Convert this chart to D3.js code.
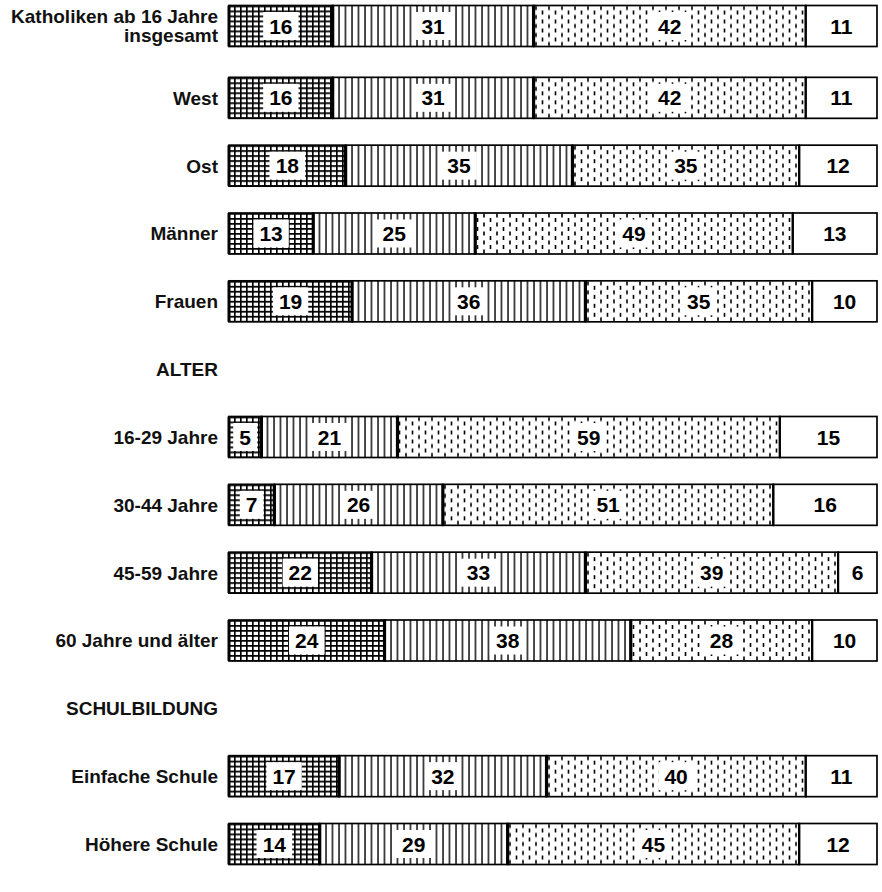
<!DOCTYPE html>
<html>
<head>
<meta charset="utf-8">
<script src="https://cdn.jsdelivr.net/npm/d3@7"></script>
<style>
  body { margin: 0; background: #fff; }
  text { font-family: "Liberation Sans", Arial, sans-serif; }
</style>
</head>
<body>
<svg id="chart"></svg>
<script>
// categories (label lines separated by |)
const categories = [
    "Katholiken ab 16 Jahre|insgesamt", "West", "Ost", "Männer", "Frauen",
    "16-29 Jahre", "30-44 Jahre", "45-59 Jahre", "60 Jahre und älter",
    "Einfache Schule", "Höhere Schule"
];
// group headers and the category they are placed before
const headers = ["ALTER", "SCHULBILDUNG"];
const headerBefore = ["16-29 Jahre", "Einfache Schule"];

// series values (percent)
const s1 = [16, 16, 18, 13, 19, 5, 7, 22, 24, 17, 14];
const s2 = [31, 31, 35, 25, 36, 21, 26, 33, 38, 32, 29];
const s3 = [42, 42, 35, 49, 35, 59, 51, 39, 28, 40, 45];
const s4 = [11, 11, 12, 13, 10, 15, 16, 6, 10, 11, 12];

const width = 882, height = 892;
const barH = 41;

const svg = d3.select("#chart")
    .attr("width", width)
    .attr("height", height);

// patterns
const defs = svg.append("defs");
const grid = defs.append("pattern")
    .attr("id", "p-grid")
    .attr("patternUnits", "userSpaceOnUse")
    .attr("width", 6).attr("height", 5);
grid.append("rect").attr("width", 6).attr("height", 5).attr("fill", "#fff");
grid.append("path").attr("d", "M0.8,0V5M0,0.8H6").attr("stroke", "#000").attr("stroke-width", 1.7);

const vlines = defs.append("pattern")
    .attr("id", "p-vlines")
    .attr("patternUnits", "userSpaceOnUse")
    .attr("width", 6.5).attr("height", 10);
vlines.append("rect").attr("width", 6.5).attr("height", 10).attr("fill", "#fff");
vlines.append("path").attr("d", "M1,0V10").attr("stroke", "#000").attr("stroke-width", 1.4);

const dots = defs.append("pattern")
    .attr("id", "p-dots")
    .attr("patternUnits", "userSpaceOnUse")
    .attr("width", 13).attr("height", 9);
dots.append("rect").attr("width", 13).attr("height", 9).attr("fill", "#fff");
dots.append("path").attr("d", "M3,0.5V4.5M9.5,5V9").attr("stroke", "#000").attr("stroke-width", 1.6);

const fills = ["url(#p-grid)", "url(#p-vlines)", "url(#p-dots)", "#fff"];

// row slots: categories with headers interleaved
const slots = [];
categories.forEach(c => {
    const h = headerBefore.indexOf(c);
    if (h >= 0) slots.push(headers[h]);
    slots.push(c);
});

const y = d3.scalePoint()
    .domain(slots)
    .range([30, 844]);
// first row sits a little higher (two-line label)
const rowY = c => y(c) + (c === categories[0] ? -4 : 0);

const x = d3.scaleLinear()
    .domain([0, 100])
    .range([229, 877]);

const data = categories.map((c, i) => {
    const vals = [s1[i], s2[i], s3[i], s4[i]];
    let acc = 0;
    return {
        category: c,
        segs: vals.map((v, k) => {
            const s = { k, v, x0: acc, x1: acc + v };
            acc += v;
            return s;
        })
    };
});

// row labels
const labelX = 218;
data.forEach(d => {
    const lines = d.category.split("|");
    const t = svg.append("text")
        .attr("text-anchor", "end")
        .attr("font-size", 19)
        .attr("font-weight", "bold")
        .attr("fill", "#111");
    const cy = rowY(d.category);
    const lh = 19;
    lines.forEach((l, j) => {
        t.append("tspan")
            .attr("x", labelX)
            .attr("y", cy + (j - (lines.length - 1) / 2) * lh)
            .attr("dy", "0.36em")
            .text(l);
    });
});

// headers
headers.forEach(h => {
    svg.append("text")
        .attr("x", labelX)
        .attr("y", y(h))
        .attr("dy", "0.36em")
        .attr("text-anchor", "end")
        .attr("font-size", 19)
        .attr("font-weight", "bold")
        .attr("fill", "#111")
        .text(h);
});

// bars
const rowG = svg.selectAll(".row")
    .data(data)
    .join("g")
        .attr("class", "row")
        .attr("transform", d => `translate(0,${rowY(d.category) - barH / 2})`);

rowG.selectAll(".seg")
    .data(d => d.segs)
    .join("rect")
        .attr("class", "seg")
        .attr("x", s => x(s.x0))
        .attr("y", 0)
        .attr("width", s => x(s.x1) - x(s.x0))
        .attr("height", barH)
        .attr("fill", s => fills[s.k])
        .attr("stroke", "#000")
        .attr("stroke-width", 1.7);

// heavier dividers
rowG.selectAll(".div")
    .data(d => d.segs.filter(s => s.k > 0))
    .join("line")
        .attr("class", "div")
        .attr("x1", s => x(s.x0))
        .attr("x2", s => x(s.x0))
        .attr("y1", 0)
        .attr("y2", barH)
        .attr("stroke", "#000")
        .attr("stroke-width", s => s.k === 3 ? 2.2 : 3.2);

rowG.append("line")
    .attr("x1", x(0)).attr("x2", x(0))
    .attr("y1", 0).attr("y2", barH)
    .attr("stroke", "#000").attr("stroke-width", 3);

// value labels with white boxes
rowG.selectAll(".val")
    .data(d => d.segs)
    .join("g")
        .attr("class", "val")
        .each(function (s) {
            const g = d3.select(this);
            const cx = (x(s.x0) + x(s.x1)) / 2;
            const box = g.append("rect").attr("fill", "#fff");
            const t = g.append("text")
                .attr("x", cx)
                .attr("y", barH / 2)
                .attr("dy", "0.36em")
                .attr("text-anchor", "middle")
                .attr("font-size", 21)
                .attr("font-weight", "bold")
                .attr("fill", "#000")
                .text(s.v);
            if (s.k < 3) {
                const bb = t.node().getBBox();
                const w = Math.min(bb.width + 12, x(s.x1) - x(s.x0) - 5);
                box.attr("x", cx - w / 2)
                    .attr("y", barH / 2 - 14)
                    .attr("width", w)
                    .attr("height", 28);
            } else {
                box.remove();
            }
        });
</script>
</body>
</html>
